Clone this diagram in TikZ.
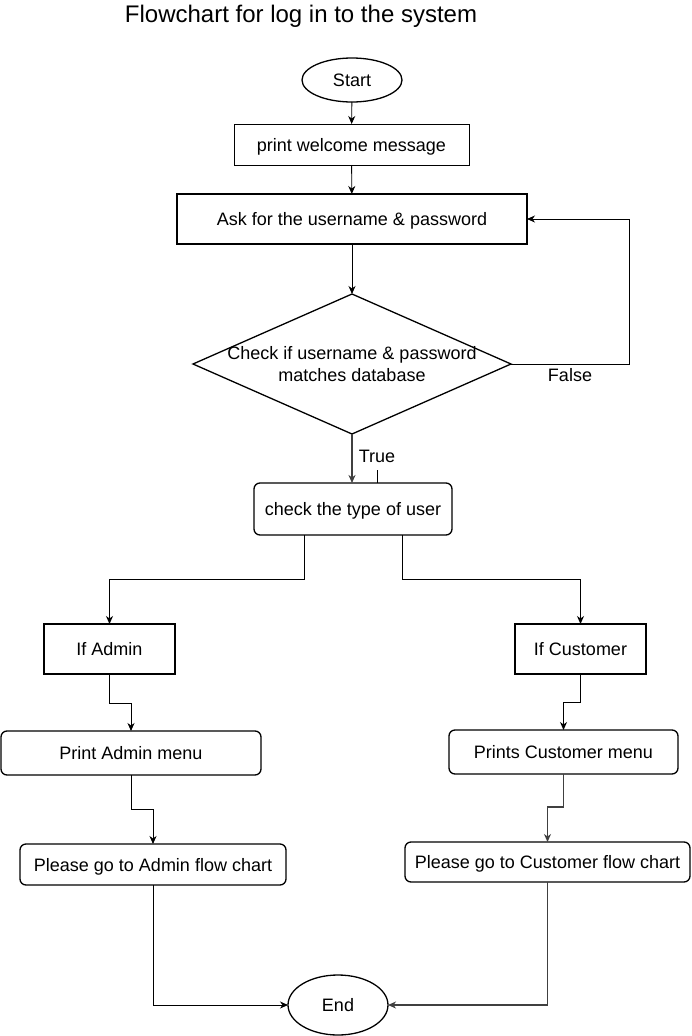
\documentclass[tikz,border=0pt]{standalone}
\usepackage{fontspec}
\setmainfont{Liberation Sans}
\usetikzlibrary{shapes.geometric,arrows.meta}
\begin{document}
\begin{tikzpicture}[x=1pt,y=-1pt,
  every node/.style={font=\fontsize{18}{22}\selectfont, inner sep=0pt, outer sep=0pt},
  txt/.style={text height=15pt, text depth=2pt},
  plainbox/.style={draw, txt, line width=1pt, minimum width=#1},
  thickbox/.style={draw, txt, line width=1.6pt, minimum width=#1},
  roundbox/.style={draw, txt, line width=1.3pt, rounded corners=6pt, minimum width=#1},
  term/.style={draw, txt, ellipse, line width=1.3pt, minimum width=100pt},
  conn/.style={draw, line width=0.9pt, -{Stealth[length=8pt,width=7pt,inset=2.5pt]}},
  lbl/.style={font=\fontsize{18}{22}\selectfont}
]
\useasboundingbox (0,0) rectangle (691,1036);

\node[font=\fontsize{24}{28}\selectfont, anchor=base] (title) at (301,23) {Flowchart for log in to the system};

\node[term, minimum height=44pt] (start) at (352,80) {Start};
\node[plainbox=235pt, minimum height=41pt] (welcome) at (351.5,144.5) {print welcome message};
\node[thickbox=350pt, minimum height=50pt] (ask) at (352,219) {Ask for the username \& password};
\node[diamond, draw, line width=1.3pt, minimum width=318pt, minimum height=140pt,
      label={[align=center, font=\fontsize{18}{22}\selectfont]center:Check if username \& password\\matches database}] (dec) at (352,364) {};
\node[roundbox=198pt, minimum height=52pt] (check) at (353,509) {check the type of user};
\node[thickbox=131pt, minimum height=50pt] (ifadmin) at (109.5,649) {If Admin};
\node[thickbox=131pt, minimum height=50pt] (ifcust) at (580.5,649) {If Customer};
\node[roundbox=260pt, minimum height=44pt] (padmin) at (131,753) {Print Admin menu};
\node[roundbox=229pt, minimum height=44pt] (pcust) at (563.5,752) {Prints Customer menu};
\node[roundbox=266pt, minimum height=41pt] (gadmin) at (153,864.5) {Please go to Admin flow chart};
\node[roundbox=285pt, minimum height=40pt] (gcust) at (547.5,862) {Please go to Customer flow chart};
\node[term, minimum height=60pt] (endn) at (338,1005) {End};

\draw[conn] (start) -- (welcome);
\draw[conn] (welcome) -- (ask);
\draw[conn] (ask) -- (dec.north);
\draw[conn] (dec.east) -- ++(118,0) |- (ask.east);
\node[lbl] (false) at (570,375) {False};
\draw[conn, line width=1.4pt, draw=black!75] (dec.south) -- (dec.south |- check.north);
\node[lbl] (true) at (377,456) {True};
\coordinate (tickA) at (377,470);
\draw[line width=0.9pt] (tickA) -- (tickA |- check.north);
\draw[conn] ([xshift=-49pt]check.south) -- ++(0,44) -| (ifadmin.north);
\draw[conn] ([xshift=49pt]check.south) -- ++(0,44) -| (ifcust.north);
\draw[conn] (ifadmin.south) -- ++(0,29) -| (padmin.north);
\draw[conn] (padmin.south) -- ++(0,34) -| (gadmin.north);
\draw[conn] (ifcust.south) -- ++(0,28) -| (pcust.north);
\draw[conn, draw=black!75, line width=1.2pt] (pcust.south) -- ++(0,33) -| (gcust.north);
\draw[conn] (gadmin.south) |- (endn.west);
\draw[conn, draw=black!75, line width=1.2pt] (gcust.south) |- (endn.east);
\end{tikzpicture}
\end{document}
